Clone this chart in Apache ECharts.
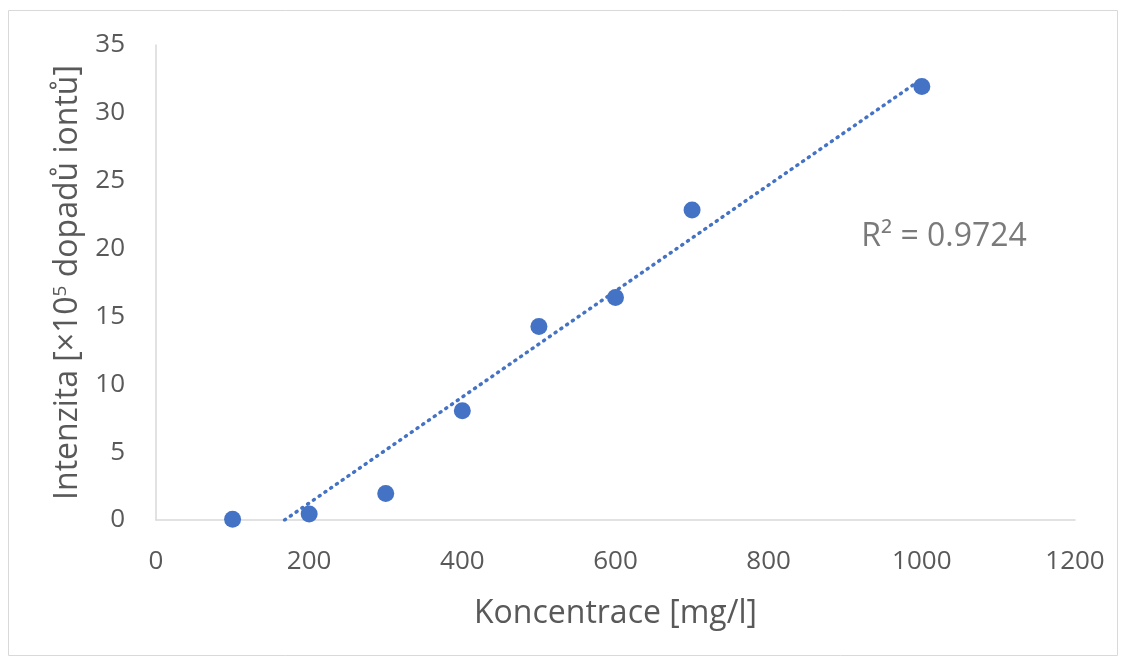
<!DOCTYPE html>
<html>
<head>
<meta charset="utf-8">
<script src="https://cdn.jsdelivr.net/npm/echarts@6/dist/echarts.min.js"></script>
<style>
    html, body { margin: 0; padding: 0; background: #fff; }
    #chart { width: 1126px; height: 661px; }
</style>
</head>
<body>
<div id="chart"></div>
<script>
// naměřené body kalibrace
const koncentrace = [100, 200, 300, 400, 500, 600, 700, 1000];
const intenzita = [0.05, 0.45, 1.95, 8.05, 14.25, 16.4, 22.85, 31.95];
// lineární spojnice trendu (koncové body)
const trendX = [168, 1000];
const trendY = [0, 32.5];
const r2Text = 'R² = 0.9724';
const r2Pos = [1029, 20.85];

const fontFam = '"Open Sans", "Noto Sans", sans-serif';
const textColor = '#595959';
const blue = '#4472C4';

const chart = echarts.init(document.getElementById('chart'));

chart.setOption({
    animation: false,
    backgroundColor: '#fff',
    graphic: [{
        type: 'rect',
        shape: { x: 8.5, y: 10.5, width: 1109, height: 645 },
        style: { fill: 'none', stroke: '#d9d9d9', lineWidth: 1 },
        silent: true
    }],
    grid: { left: 156, right: 51, top: 45, bottom: 141 },
    xAxis: {
        type: 'value',
        min: 0,
        max: 1200,
        interval: 200,
        name: 'Koncentrace [mg/l]',
        nameLocation: 'middle',
        nameGap: 78,
        nameTextStyle: { fontFamily: fontFam, fontSize: 32, color: textColor },
        axisLine: { show: true, lineStyle: { color: '#d9d9d9', width: 1.5 } },
        axisTick: { show: false },
        splitLine: { show: false },
        axisLabel: {
            fontFamily: fontFam, fontSize: 26, color: textColor, margin: 29,
            formatter: v => String(v)
        }
    },
    yAxis: {
        type: 'value',
        min: 0,
        max: 35,
        interval: 5,
        name: '{a|Intenzita [×10}{s|5}{a| dopadů iontů]}',
        nameLocation: 'middle',
        nameGap: 72,
        nameTextStyle: {
            rich: {
                a: { fontFamily: fontFam, fontSize: 32, color: textColor },
                s: { fontFamily: fontFam, fontSize: 19, color: textColor, verticalAlign: 'top', padding: [0, 0, 14, 0] }
            }
        },
        axisLine: { show: true, lineStyle: { color: '#d9d9d9', width: 1.5 } },
        axisTick: { show: false },
        splitLine: { show: false },
        axisLabel: { fontFamily: fontFam, fontSize: 26, color: textColor, margin: 31 }
    },
    series: [{
        type: 'line',
        data: trendX.map((x, i) => [x, trendY[i]]),
        showSymbol: false,
        symbol: 'none',
        lineStyle: { color: blue, width: 3.5, type: [1, 6], cap: 'round' },
        silent: true,
        z: 2
    }, {
        type: 'scatter',
        data: koncentrace.map((x, i) => [x, intenzita[i]]),
        symbolSize: 17,
        itemStyle: { color: blue, opacity: 1 },
        z: 3
    }, {
        type: 'scatter',
        data: [r2Pos],
        symbolSize: 0,
        silent: true,
        label: {
            show: true,
            position: 'inside',
            formatter: r2Text,
            fontFamily: fontFam,
            fontSize: 32,
            color: textColor
        }
    }]
});
</script>
</body>
</html>
